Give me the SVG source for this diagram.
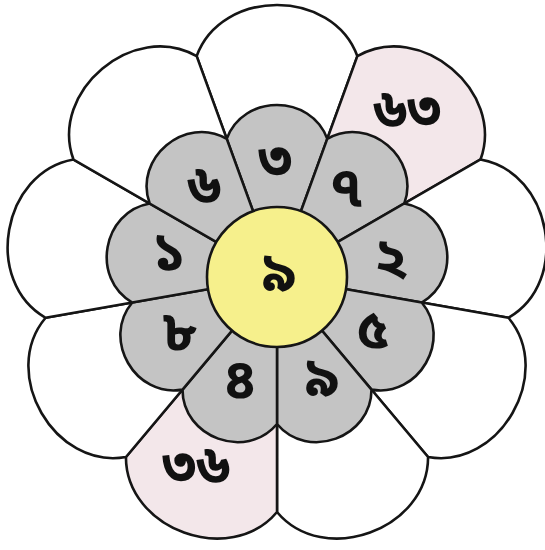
<svg xmlns="http://www.w3.org/2000/svg" xmlns:xlink="http://www.w3.org/1999/xlink" width="545" height="550" viewBox="0 0 545 550">
<style>
.pet{stroke:#151515;stroke-width:2.6;stroke-linejoin:round}
.w{fill:#ffffff}
.p{fill:#f3e7ea}
.g{fill:#c4c4c4}
.c{fill:#f6f08c;stroke:#151515;stroke-width:2.6}
.t{font-family:"Noto Sans Bengali","Noto Sans",sans-serif;font-size:56px;font-weight:700;fill:#111111;text-anchor:middle;dominant-baseline:central}
</style>
<defs>
<path id="op" d="M277 277 L196.6 56.2 C221.4 -12 332.6 -12 357.4 56.2 Z"/>
<path id="ip" d="M277 277 L226.7 138.9 C243.15 93.7 310.85 93.7 327.3 138.9 Z"/>
</defs>
<rect width="545" height="550" fill="#ffffff"/>
<g id="outer-petals">
<g id="outer-0"><use xlink:href="#op" class="pet w"/></g>
<g id="outer-1"><use xlink:href="#op" class="pet p" transform="rotate(40 277 277)"/><text class="t" x="407" y="114">৬৩</text></g>
<g id="outer-2"><use xlink:href="#op" class="pet w" transform="rotate(80 277 277)"/></g>
<g id="outer-3"><use xlink:href="#op" class="pet w" transform="rotate(120 277 277)"/></g>
<g id="outer-4"><use xlink:href="#op" class="pet w" transform="rotate(160 277 277)"/></g>
<g id="outer-5"><use xlink:href="#op" class="pet p" transform="rotate(200 277 277)"/><text class="t" x="196" y="470">৩৬</text></g>
<g id="outer-6"><use xlink:href="#op" class="pet w" transform="rotate(240 277 277)"/></g>
<g id="outer-7"><use xlink:href="#op" class="pet w" transform="rotate(280 277 277)"/></g>
<g id="outer-8"><use xlink:href="#op" class="pet w" transform="rotate(320 277 277)"/></g>
</g>
<g id="inner-petals">
<g id="inner-0"><use xlink:href="#ip" class="pet g"/><text class="t" x="275" y="164">৩</text></g>
<g id="inner-1"><use xlink:href="#ip" class="pet g" transform="rotate(40 277 277)"/><text class="t" x="346" y="192">৭</text></g>
<g id="inner-2"><use xlink:href="#ip" class="pet g" transform="rotate(80 277 277)"/><text class="t" x="391" y="263">২</text></g>
<g id="inner-3"><use xlink:href="#ip" class="pet g" transform="rotate(120 277 277)"/><text class="t" x="373" y="334">৫</text></g>
<g id="inner-4"><use xlink:href="#ip" class="pet g" transform="rotate(160 277 277)"/><text class="t" x="322" y="382">৯</text></g>
<g id="inner-5"><use xlink:href="#ip" class="pet g" transform="rotate(200 277 277)"/><text class="t" x="240" y="384">৪</text></g>
<g id="inner-6"><use xlink:href="#ip" class="pet g" transform="rotate(240 277 277)"/><text class="t" x="180" y="336">৮</text></g>
<g id="inner-7"><use xlink:href="#ip" class="pet g" transform="rotate(280 277 277)"/><text class="t" x="169" y="257">১</text></g>
<g id="inner-8"><use xlink:href="#ip" class="pet g" transform="rotate(320 277 277)"/><text class="t" x="204" y="190">৬</text></g>
</g>
<g id="center">
<circle class="c" cx="277" cy="277" r="70"/>
<text class="t" x="279" y="277">৯</text>
</g>
</svg>
